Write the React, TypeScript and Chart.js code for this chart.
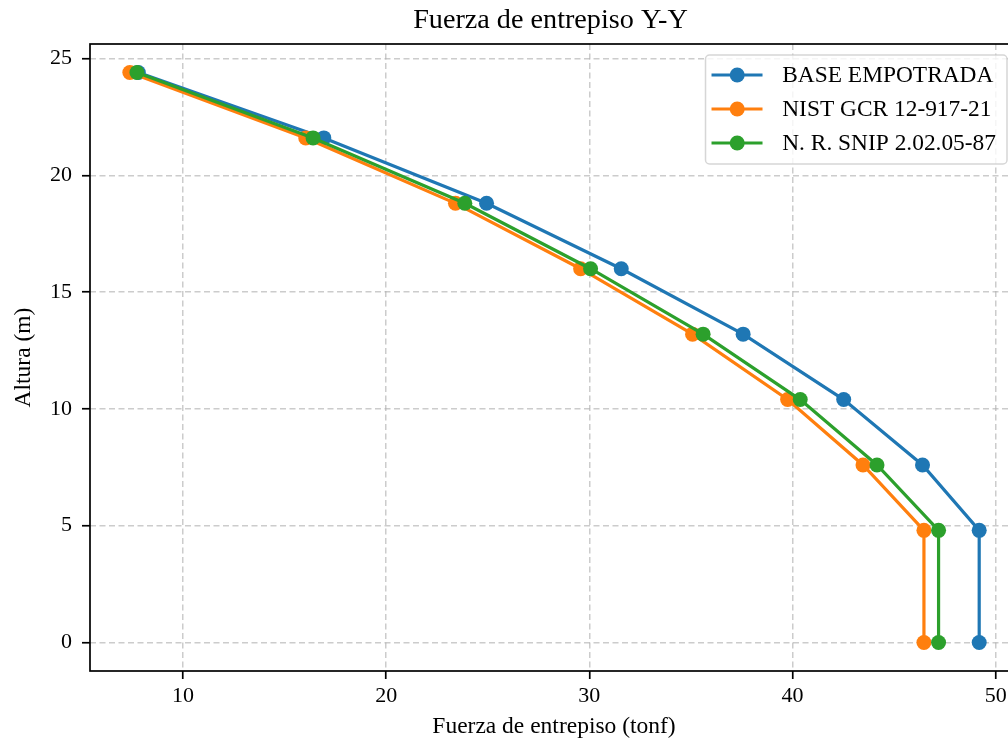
import React, { useEffect, useRef } from "react";
import { Chart, registerables } from "chart.js";

Chart.register(...registerables);

// ---- data ----
const alturas = [0, 4.8, 7.6, 10.4, 13.2, 16.0, 18.8, 21.6, 24.4];
const baseEmpotrada = [49.19, 49.19, 46.4, 42.52, 37.57, 31.57, 24.94, 16.93, 7.8];
const nistGcr = [46.47, 46.47, 43.47, 39.76, 35.08, 29.57, 23.41, 16.04, 7.38];
const nrSnip = [47.19, 47.19, 44.16, 40.38, 35.6, 30.06, 23.87, 16.4, 7.73];
const seriesNames = ["BASE EMPOTRADA", "NIST GCR 12-917-21", "N. R. SNIP 2.02.05-87"];
const seriesValues = [baseEmpotrada, nistGcr, nrSnip];
const seriesColors = ["#1f77b4", "#ff7f0e", "#2ca02c"];
const xTicks = [10, 20, 30, 40, 50];
const yTicks = [0, 5, 10, 15, 20, 25];
const xTickLabels = ["10", "20", "30", "40", "50"];
const yTickLabels = ["0", "5", "10", "15", "20", "25"];
const titleText = "Fuerza de entrepiso Y-Y";
const xLabel = "Fuerza de entrepiso (tonf)";
const yLabel = "Altura (m)";

const FONT = '"Liberation Serif", "Times New Roman", serif';
const TICK_SIZE = 22;
const LEGEND_SIZE = 23.4;
const LABEL_SIZE = 23.5;
const TITLE_SIZE = 28.2;

const framePlugin = {
  id: "mplFrame",
  afterDatasetsDraw(chart: any) {
    const { ctx, chartArea } = chart;
    ctx.save();
    ctx.strokeStyle = "#000";
    ctx.lineWidth = 1.7;
    ctx.strokeRect(
      chartArea.left,
      chartArea.top,
      chartArea.right - chartArea.left,
      chartArea.bottom - chartArea.top
    );
    ctx.restore();
  },
};

const titleLegendPlugin = {
  id: "mplTitleLegend",
  afterDraw(chart: any) {
    const { ctx, chartArea } = chart;
    ctx.save();
    // title
    ctx.font = `${TITLE_SIZE}px ${FONT}`;
    ctx.fillStyle = "#000";
    ctx.textAlign = "center";
    ctx.textBaseline = "middle";
    ctx.fillText(titleText, (chartArea.left + chartArea.right) / 2 - 3.5, 20.5);

    // legend
    ctx.font = `${LEGEND_SIZE}px ${FONT}`;
    const textW = Math.max(...seriesNames.map((n) => ctx.measureText(n).width));
    const right = chartArea.right - 11;
    const top = chartArea.top + 11;
    const width = 76.7 + textW + 11;
    const height = 109;
    const left = right - width;
    const r = 4;
    ctx.beginPath();
    ctx.moveTo(left + r, top);
    ctx.lineTo(right - r, top);
    ctx.arcTo(right, top, right, top + r, r);
    ctx.lineTo(right, top + height - r);
    ctx.arcTo(right, top + height, right - r, top + height, r);
    ctx.lineTo(left + r, top + height);
    ctx.arcTo(left, top + height, left, top + height - r, r);
    ctx.lineTo(left, top + r);
    ctx.arcTo(left, top, left + r, top, r);
    ctx.closePath();
    ctx.fillStyle = "rgba(255,255,255,0.8)";
    ctx.fill();
    ctx.strokeStyle = "rgba(204,204,204,0.8)";
    ctx.lineWidth = 1.5;
    ctx.stroke();

    seriesNames.forEach((name, i) => {
      const y = top + 20 + i * 34;
      ctx.strokeStyle = seriesColors[i];
      ctx.lineWidth = 3.2;
      ctx.beginPath();
      ctx.moveTo(left + 6, y);
      ctx.lineTo(left + 57, y);
      ctx.stroke();
      ctx.fillStyle = seriesColors[i];
      ctx.beginPath();
      ctx.arc(left + 31.7, y, 7.5, 0, Math.PI * 2);
      ctx.fill();
      ctx.fillStyle = "#000";
      ctx.textAlign = "left";
      ctx.textBaseline = "middle";
      ctx.fillText(name, left + 76.7, y + 1);
    });
    ctx.restore();
  },
};

export default function App() {
  const canvasRef = useRef<HTMLCanvasElement | null>(null);

  useEffect(() => {
    if (!canvasRef.current) return;
    const datasets = seriesNames.map((name, i) => ({
      label: name,
      data: alturas.map((h, j) => ({ x: seriesValues[i][j], y: h })),
      borderColor: seriesColors[i],
      backgroundColor: seriesColors[i],
      borderWidth: 3.2,
      pointRadius: 7.5,
      pointHoverRadius: 7.5,
      pointBorderWidth: 0,
      showLine: true,
      tension: 0,
      order: seriesNames.length - 1 - i,
    }));

    const gridOpts = {
      color: "rgba(176,176,176,0.65)",
      lineWidth: 1.5,
      drawTicks: true,
      tickLength: 8,
      tickColor: "#000",
      tickWidth: 1.7,
      tickBorderDash: [],
    };

    const chart = new Chart(canvasRef.current, {
      type: "scatter",
      data: { datasets },
      options: {
        animation: false,
        responsive: false,
        devicePixelRatio: 1,
        layout: { padding: { top: 44, right: 12, bottom: 0, left: 0 } },
        plugins: {
          legend: { display: false },
          title: { display: false },
          tooltip: { enabled: false },
        },
        scales: {
          x: {
            type: "linear",
            min: 5.42,
            max: 51.1,
            afterBuildTicks: (s: any) => {
              s.ticks = xTicks.map((v) => ({ value: v }));
            },
            afterFit: (s: any) => {
              s.height = 70;
            },
            ticks: {
              color: "#000",
              font: { family: FONT, size: TICK_SIZE },
              padding: 4,
              maxRotation: 0,
              autoSkip: false,
              callback: (v: any) => {
                const k = xTicks.indexOf(Number(v));
                return k >= 0 ? xTickLabels[k] : "";
              },
            },
            grid: gridOpts,
            border: { display: false, dash: [6, 3.5] },
            title: {
              display: true,
              text: xLabel,
              color: "#000",
              font: { family: FONT, size: LABEL_SIZE, lineHeight: 1.2 },
              padding: { top: 0, bottom: 0 },
            },
          },
          y: {
            type: "linear",
            min: -1.22,
            max: 25.62,
            afterBuildTicks: (s: any) => {
              s.ticks = yTicks.map((v) => ({ value: v }));
            },
            afterFit: (s: any) => {
              s.width = 90;
            },
            ticks: {
              color: "#000",
              font: { family: FONT, size: TICK_SIZE },
              padding: 10,
              autoSkip: false,
              callback: (v: any) => {
                const k = yTicks.indexOf(Number(v));
                return k >= 0 ? yTickLabels[k] : "";
              },
            },
            grid: gridOpts,
            border: { display: false, dash: [6, 3.5] },
            title: {
              display: true,
              text: yLabel,
              color: "#000",
              font: { family: FONT, size: LABEL_SIZE, lineHeight: 1.2 },
              padding: { top: 10, bottom: 0 },
            },
          },
        },
      },
      plugins: [framePlugin, titleLegendPlugin],
    } as any);

    return () => {
      chart.destroy();
    };
  }, []);

  return (
    <div
      style={{
        position: "absolute",
        left: 0,
        top: 0,
        width: 1008,
        height: 741,
        overflow: "hidden",
        background: "#fff",
      }}
    >
      <canvas
        ref={canvasRef}
        width={1030}
        height={741}
        style={{ display: "block", width: 1030, height: 741 }}
      />
    </div>
  );
}
